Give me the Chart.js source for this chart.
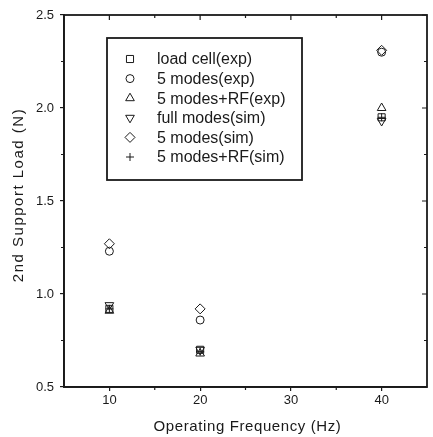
<!DOCTYPE html>
<html lang="en">
<head>
  <meta charset="UTF-8">
  <title>2nd Support Load vs Operating Frequency</title>
  <script src="https://cdn.jsdelivr.net/npm/chart.js"></script>
  <style>
    html, body { margin: 0; padding: 0; background: #fff; }
    #wrap { width: 433px; height: 437px; }
  </style>
</head>
<body>
<div id="wrap"><canvas id="chart" width="433" height="437"></canvas></div>

<script>
  // operating frequencies (Hz)
  const freqs = [10, 20, 40];

  // 2nd support load (N)
  const loadCellExp    = [0.92, 0.70, 1.95];
  const fiveModesExp   = [1.23, 0.86, 2.30];
  const fiveModesRfExp = [0.91, 0.68, 2.00];
  const fullModesSim   = [0.94, 0.70, 1.93];
  const fiveModesSim   = [1.27, 0.92, 2.31];
  const fiveModesRfSim = [0.92, 0.69, 1.95];

  const seriesLabels = [
    'load cell(exp)', '5 modes(exp)', '5 modes+RF(exp)',
    'full modes(sim)', '5 modes(sim)', '5 modes+RF(sim)'
  ];

  // axis ticks
  const xTicks = [10, 20, 30, 40];
  const xMinor = [15, 25, 35];
  const yTicks = [0.5, 1.0, 1.5, 2.0, 2.5];
  const yMinor = [0.75, 1.25, 1.75, 2.25];

  const ink = '#1a1a1a';
  const font = 'Arial, "Liberation Sans", Helvetica, sans-serif';

  const toPoints = vals => freqs.map((f, i) => ({ x: f, y: vals[i] }));

  // marker look for each series
  const markers = [
    { style: 'rect',     radius: 5, rot: 0 },
    { style: 'circle',   radius: 4, rot: 0 },
    { style: 'triangle', radius: 5, rot: 0 },
    { style: 'triangle', radius: 5, rot: 180 },
    { style: 'rectRot',  radius: 5, rot: 0 },
    { style: 'cross',    radius: 4, rot: 0 }
  ];
  const seriesData = [loadCellExp, fiveModesExp, fiveModesRfExp, fullModesSim, fiveModesSim, fiveModesRfSim];

  const datasets = seriesData.map((vals, i) => ({
    label: seriesLabels[i],
    data: toPoints(vals),
    pointStyle: markers[i].style,
    pointRadius: markers[i].radius,
    pointRotation: markers[i].rot,
    pointBorderWidth: 1,
    pointBorderColor: ink,
    pointBackgroundColor: 'rgba(0,0,0,0)',
    borderColor: ink,
    backgroundColor: 'rgba(0,0,0,0)',
    showLine: false
  }));

  // draws one legend marker by hand
  function marker(ctx, m, cx, cy) {
    const r = m.radius;
    ctx.beginPath();
    if (m.style === 'rect') {
      const s = r * Math.SQRT1_2;
      ctx.rect(cx - s, cy - s, 2 * s, 2 * s);
    } else if (m.style === 'circle') {
      ctx.arc(cx, cy, r, 0, Math.PI * 2);
    } else if (m.style === 'triangle') {
      const d = m.rot ? -1 : 1;
      ctx.moveTo(cx, cy - d * r);
      ctx.lineTo(cx + r * 0.866, cy + d * r * 0.5);
      ctx.lineTo(cx - r * 0.866, cy + d * r * 0.5);
      ctx.closePath();
    } else if (m.style === 'rectRot') {
      ctx.moveTo(cx, cy - r); ctx.lineTo(cx + r, cy);
      ctx.lineTo(cx, cy + r); ctx.lineTo(cx - r, cy);
      ctx.closePath();
    } else {
      ctx.moveTo(cx - r, cy); ctx.lineTo(cx + r, cy);
      ctx.moveTo(cx, cy - r); ctx.lineTo(cx, cy + r);
    }
    ctx.stroke();
  }

  // frame, inner ticks, legend box and axis titles
  const decor = {
    id: 'decor',
    afterDraw(chart) {
      const { ctx, chartArea: a, scales: { x, y } } = chart;
      ctx.save();
      try {
        ctx.strokeStyle = ink;

        // frame
        ctx.lineWidth = 1.8;
        ctx.strokeRect(a.left, a.top, a.right - a.left, a.bottom - a.top);

        // ticks on top and right (inward), minor ticks everywhere
        ctx.lineWidth = 1.2;
        ctx.beginPath();
        xTicks.forEach(v => {
          const px = x.getPixelForValue(v);
          ctx.moveTo(px, a.top); ctx.lineTo(px, a.top + 5);
        });
        xMinor.forEach(v => {
          const px = x.getPixelForValue(v);
          ctx.moveTo(px, a.top); ctx.lineTo(px, a.top + 3);
          ctx.moveTo(px, a.bottom); ctx.lineTo(px, a.bottom + 3);
        });
        yTicks.forEach(v => {
          const py = y.getPixelForValue(v);
          ctx.moveTo(a.right, py); ctx.lineTo(a.right - 5, py);
        });
        yMinor.forEach(v => {
          const py = y.getPixelForValue(v);
          ctx.moveTo(a.right, py); ctx.lineTo(a.right - 3, py);
          ctx.moveTo(a.left, py); ctx.lineTo(a.left - 3, py);
        });
        ctx.stroke();

        // legend box
        const lx = 107, ly = 38, lw = 195, lh = 142;
        ctx.lineWidth = 1.8;
        ctx.strokeRect(lx, ly, lw, lh);
        ctx.lineWidth = 1;
        ctx.fillStyle = ink;
        ctx.font = '16px ' + font;
        ctx.textBaseline = 'middle';
        ctx.textAlign = 'left';
        seriesLabels.forEach((label, i) => {
          const rowY = 59 + i * 19.6;
          marker(ctx, markers[i], 130, rowY);
          ctx.fillText(label, 157, rowY + 1);
        });

        // axis titles
        ctx.font = '15px ' + font;
        ctx.textAlign = 'center';
        if ('letterSpacing' in ctx) ctx.letterSpacing = '0.6px';
        ctx.fillText('Operating Frequency (Hz)', (a.left + a.right) / 2 + 2, 427);
        ctx.translate(19, (a.top + a.bottom) / 2 - 6);
        ctx.rotate(-Math.PI / 2);
        if ('letterSpacing' in ctx) ctx.letterSpacing = '1.5px';
        ctx.fillText('2nd Support Load (N)', 0, 0);
      } finally {
        if ('letterSpacing' in ctx) ctx.letterSpacing = '0px';
        ctx.restore();
        if ('letterSpacing' in ctx) ctx.letterSpacing = '0px';
      }
    }
  };

  new Chart(document.getElementById('chart'), {
    type: 'scatter',
    data: { datasets },
    options: {
      responsive: false,
      animation: false,
      layout: { padding: { top: 15, right: 1, left: 0, bottom: 0 } },
      plugins: {
        legend: { display: false },
        tooltip: { enabled: false }
      },
      scales: {
        x: {
          type: 'linear',
          min: 5,
          max: 45,
          afterBuildTicks: s => { s.ticks = xTicks.map(v => ({ value: v })); },
          afterFit: s => { s.height = 50; },
          grid: { drawOnChartArea: false, drawTicks: true, tickLength: 4, color: ink, lineWidth: 1.2 },
          border: { display: true, color: ink, width: 1.8 },
          ticks: { color: ink, font: { family: font, size: 13 }, padding: 2, maxRotation: 0 }
        },
        y: {
          type: 'linear',
          min: 0.5,
          max: 2.5,
          afterBuildTicks: s => { s.ticks = yTicks.map(v => ({ value: v })); },
          afterFit: s => { s.width = 64; },
          grid: { drawOnChartArea: false, drawTicks: true, tickLength: 4, color: ink, lineWidth: 1.2 },
          border: { display: true, color: ink, width: 1.8 },
          ticks: { color: ink, font: { family: font, size: 13 }, padding: 6, callback: v => v.toFixed(1) }
        }
      }
    },
    plugins: [decor]
  });
</script>
</body>
</html>
